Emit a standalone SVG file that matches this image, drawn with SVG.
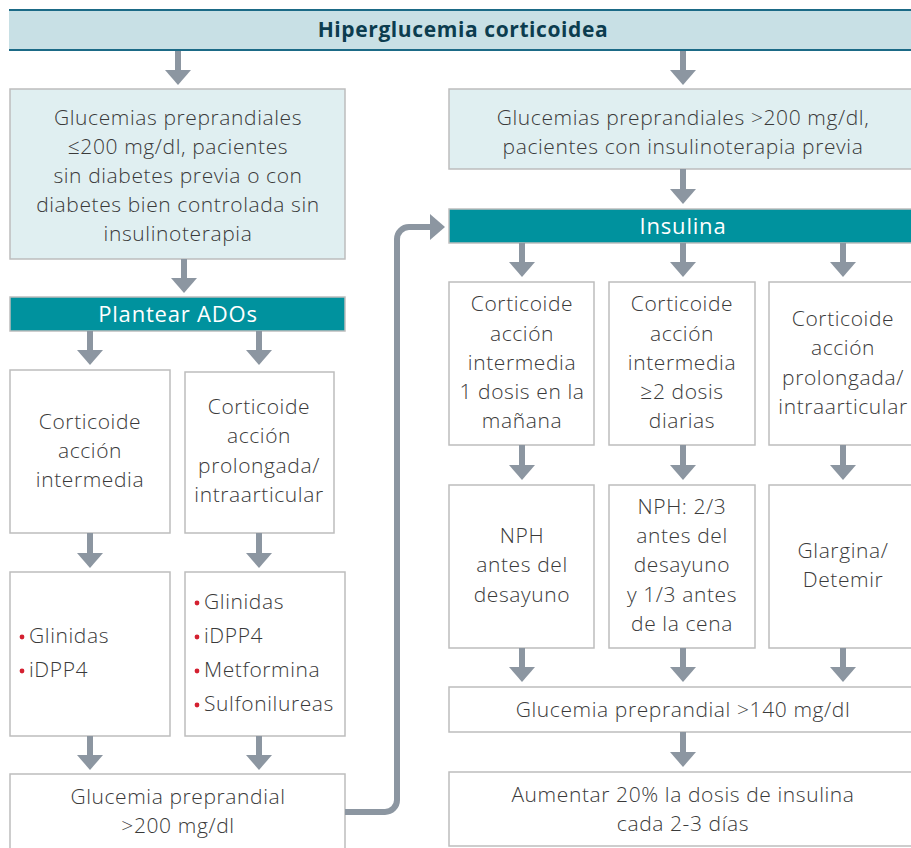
<svg xmlns="http://www.w3.org/2000/svg" width="911" height="848" viewBox="0 0 911 848">
  <defs>
    <style>
      .box { fill: #ffffff; stroke: #bdbdbd; stroke-width: 1.5; }
      .pale { fill: #e0eff1; stroke: #bdbdbd; stroke-width: 1.5; }
      .bar { fill: #00929e; stroke: #bdbdbd; stroke-width: 1.5; }
      .t { font-family: "Open Sans", Lato, "Liberation Sans", sans-serif; font-size: 21px; font-weight: 300; letter-spacing: 0.6px; fill: #3a3a3a; text-anchor: middle; }
      .tl { font-family: "Open Sans", Lato, "Liberation Sans", sans-serif; font-size: 21px; font-weight: 300; letter-spacing: 0.6px; fill: #3a3a3a; }
      .tw { font-family: "Open Sans", Lato, "Liberation Sans", sans-serif; font-size: 22px; fill: #ffffff; text-anchor: middle; font-weight: 400; letter-spacing: 0.8px; }
      .th { font-family: "Open Sans", Lato, "Liberation Sans", sans-serif; font-size: 21px; fill: #0c3d4f; text-anchor: middle; font-weight: 700; letter-spacing: 0.6px; }
      .dot { fill: #d42030; }
      .arrow { stroke: #8c96a1; stroke-width: 6; fill: none; marker-end: url(#head); }
    </style>
    <marker id="head" viewBox="0 0 15 26" refX="0" refY="13" markerWidth="15" markerHeight="26" markerUnits="userSpaceOnUse" orient="auto">
      <path d="M0,0 L15,13 L0,26 Z" fill="#8c96a1"/>
    </marker>
  </defs>

  <rect width="911" height="848" fill="#ffffff"/>

  <!-- Title bar -->
  <g id="title">
    <rect x="9" y="10" width="905" height="40" fill="#c8e0e5"/>
    <line x1="9" y1="10" x2="911" y2="10" stroke="#1b6a86" stroke-width="2"/>
    <line x1="9" y1="50" x2="911" y2="50" stroke="#1b6a86" stroke-width="2"/>
    <text class="th" x="463" y="37">Hiperglucemia corticoidea</text>
  </g>

  <!-- Left branch -->
  <g id="left-start">
    <rect class="pale" x="10" y="89" width="335" height="170"/>
    <text class="t" x="178" y="125">Glucemias preprandiales</text>
    <text class="t" x="178" y="154">≤200 mg/dl, pacientes</text>
    <text class="t" x="178" y="183">sin diabetes previa o con</text>
    <text class="t" x="178" y="212">diabetes bien controlada sin</text>
    <text class="t" x="178" y="241">insulinoterapia</text>
  </g>
  <g id="ados">
    <rect class="bar" x="10" y="297" width="335" height="34"/>
    <text class="tw" x="178" y="322">Plantear ADOs</text>
  </g>
  <g id="left-intermedia">
    <rect class="box" x="10" y="370" width="160" height="163"/>
    <text class="t" x="90" y="429">Corticoide</text>
    <text class="t" x="90" y="458">acción</text>
    <text class="t" x="90" y="487">intermedia</text>
  </g>
  <g id="left-prolongada">
    <rect class="box" x="185" y="372" width="149" height="161"/>
    <text class="t" x="259" y="414">Corticoide</text>
    <text class="t" x="259" y="443">acción</text>
    <text class="t" x="259" y="473">prolongada/</text>
    <text class="t" x="259" y="502">intraarticular</text>
  </g>
  <g id="left-drugs-a">
    <rect class="box" x="10" y="572" width="160" height="164"/>
    <circle class="dot" cx="22" cy="637" r="2.4"/>
    <text class="tl" x="29" y="643">Glinidas</text>
    <circle class="dot" cx="22" cy="671" r="2.4"/>
    <text class="tl" x="29" y="677">iDPP4</text>
  </g>
  <g id="left-drugs-b">
    <rect class="box" x="185" y="572" width="160" height="164"/>
    <circle class="dot" cx="197" cy="603" r="2.4"/>
    <text class="tl" x="204" y="609">Glinidas</text>
    <circle class="dot" cx="197" cy="637" r="2.4"/>
    <text class="tl" x="204" y="643">iDPP4</text>
    <circle class="dot" cx="197" cy="671" r="2.4"/>
    <text class="tl" x="204" y="677">Metformina</text>
    <circle class="dot" cx="197" cy="705" r="2.4"/>
    <text class="tl" x="204" y="711">Sulfonilureas</text>
  </g>
  <g id="left-check">
    <rect class="box" x="10" y="774" width="335" height="80"/>
    <text class="t" x="178" y="804">Glucemia preprandial</text>
    <text class="t" x="178" y="833">&gt;200 mg/dl</text>
  </g>

  <!-- Right branch -->
  <g id="right-start">
    <rect class="pale" x="449" y="89" width="470" height="80"/>
    <text class="t" x="683" y="125">Glucemias preprandiales &gt;200 mg/dl,</text>
    <text class="t" x="683" y="154">pacientes con insulinoterapia previa</text>
  </g>
  <g id="insulina">
    <rect class="bar" x="449" y="209" width="470" height="34"/>
    <text class="tw" x="683" y="234">Insulina</text>
  </g>
  <g id="r-intermedia-1">
    <rect class="box" x="449" y="282" width="145" height="163"/>
    <text class="t" x="522" y="311">Corticoide</text>
    <text class="t" x="522" y="341">acción</text>
    <text class="t" x="522" y="370">intermedia</text>
    <text class="t" x="522" y="399">1 dosis en la</text>
    <text class="t" x="522" y="428">mañana</text>
  </g>
  <g id="r-intermedia-2">
    <rect class="box" x="609" y="282" width="146" height="163"/>
    <text class="t" x="682" y="311">Corticoide</text>
    <text class="t" x="682" y="341">acción</text>
    <text class="t" x="682" y="370">intermedia</text>
    <text class="t" x="682" y="399">≥2 dosis</text>
    <text class="t" x="682" y="428">diarias</text>
  </g>
  <g id="r-prolongada">
    <rect class="box" x="769" y="282" width="150" height="163"/>
    <text class="t" x="843" y="326">Corticoide</text>
    <text class="t" x="843" y="355">acción</text>
    <text class="t" x="843" y="385">prolongada/</text>
    <text class="t" x="843" y="414">intraarticular</text>
  </g>
  <g id="r-nph-1">
    <rect class="box" x="449" y="485" width="145" height="163"/>
    <text class="t" x="522" y="543">NPH</text>
    <text class="t" x="522" y="572">antes del</text>
    <text class="t" x="522" y="602">desayuno</text>
  </g>
  <g id="r-nph-2">
    <rect class="box" x="609" y="485" width="146" height="163"/>
    <text class="t" x="682" y="514">NPH: 2/3</text>
    <text class="t" x="682" y="543">antes del</text>
    <text class="t" x="682" y="572">desayuno</text>
    <text class="t" x="682" y="602">y 1/3 antes</text>
    <text class="t" x="682" y="631">de la cena</text>
  </g>
  <g id="r-glargina">
    <rect class="box" x="769" y="485" width="150" height="163"/>
    <text class="t" x="843" y="558">Glargina/</text>
    <text class="t" x="843" y="587">Detemir</text>
  </g>
  <g id="r-check">
    <rect class="box" x="449" y="687" width="470" height="45"/>
    <text class="t" x="683" y="717">Glucemia preprandial &gt;140 mg/dl</text>
  </g>
  <g id="r-adjust">
    <rect class="box" x="449" y="772" width="470" height="74"/>
    <text class="t" x="683" y="802">Aumentar 20% la dosis de insulina</text>
    <text class="t" x="683" y="831">cada 2-3 días</text>
  </g>

  <!-- Connectors -->
  <g id="connectors">
    <line class="arrow" x1="178" y1="51" x2="178" y2="70"/>
    <line class="arrow" x1="683" y1="51" x2="683" y2="70"/>
    <line class="arrow" x1="184" y1="259" x2="184" y2="278"/>
    <line class="arrow" x1="90" y1="331" x2="90" y2="350"/>
    <line class="arrow" x1="259" y1="331" x2="259" y2="350"/>
    <line class="arrow" x1="90" y1="533" x2="90" y2="553"/>
    <line class="arrow" x1="259" y1="533" x2="259" y2="553"/>
    <line class="arrow" x1="90" y1="736" x2="90" y2="755"/>
    <line class="arrow" x1="259" y1="736" x2="259" y2="755"/>
    <line class="arrow" x1="683" y1="169" x2="683" y2="189"/>
    <line class="arrow" x1="522" y1="243" x2="522" y2="262"/>
    <line class="arrow" x1="683" y1="243" x2="683" y2="262"/>
    <line class="arrow" x1="843" y1="243" x2="843" y2="262"/>
    <line class="arrow" x1="522" y1="445" x2="522" y2="465"/>
    <line class="arrow" x1="683" y1="445" x2="683" y2="465"/>
    <line class="arrow" x1="843" y1="445" x2="843" y2="465"/>
    <line class="arrow" x1="522" y1="648" x2="522" y2="667"/>
    <line class="arrow" x1="683" y1="648" x2="683" y2="667"/>
    <line class="arrow" x1="843" y1="648" x2="843" y2="667"/>
    <line class="arrow" x1="683" y1="732" x2="683" y2="752"/>
    <path class="arrow" d="M345,812 H385 A12,12 0 0 0 397,800 V239 A12,12 0 0 1 409,227 H430"/>
  </g>
</svg>
